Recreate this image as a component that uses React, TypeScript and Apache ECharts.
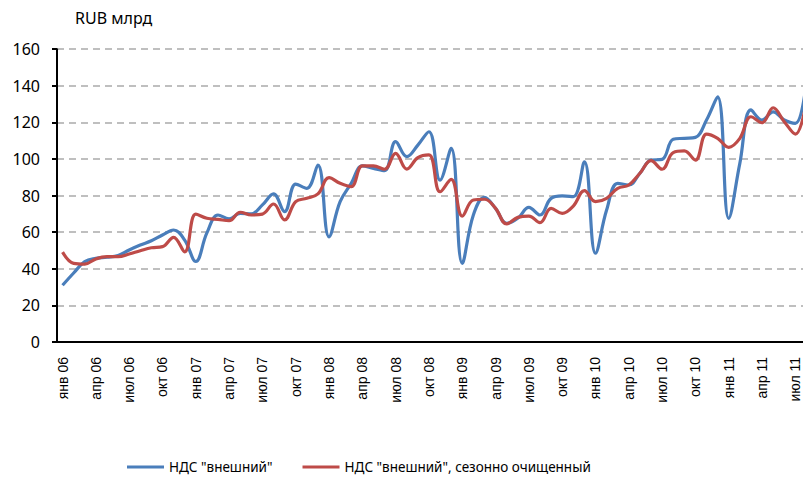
import React, { useEffect, useRef } from "react";
import * as echarts from "echarts";

const categories = [
  "янв 06","фев 06","мар 06","апр 06","май 06","июн 06","июл 06","авг 06","сен 06","окт 06","ноя 06","дек 06",
  "янв 07","фев 07","мар 07","апр 07","май 07","июн 07","июл 07","авг 07","сен 07","окт 07","ноя 07","дек 07",
  "янв 08","фев 08","мар 08","апр 08","май 08","июн 08","июл 08","авг 08","сен 08","окт 08","ноя 08","дек 08",
  "янв 09","фев 09","мар 09","апр 09","май 09","июн 09","июл 09","авг 09","сен 09","окт 09","ноя 09","дек 09",
  "янв 10","фев 10","мар 10","апр 10","май 10","июн 10","июл 10","авг 10","сен 10","окт 10","ноя 10","дек 10",
  "янв 11","фев 11","мар 11","апр 11","май 11","июн 11","июл 11","авг 11",
];

const vatExternal = [
  31, 37.7, 43.9, 45.7, 46.3, 47.2, 50.3, 53, 55.3, 58.5, 61.2, 55.7,
  44, 59.6, 69.4, 67.3, 70.3, 70, 74.9, 80.9, 71.2, 86.3, 84, 96.7,
  57.5, 76.7, 86.7, 96.2, 94.9, 93.6, 109.5, 101.3, 107.6, 114.9, 88.5, 105.8,
  43, 69.4, 79, 73, 64.8, 67.6, 73.6, 69.4, 78.5, 79.8, 79.4, 98.5,
  48.5, 72.1, 86.7, 85.8, 92.2, 99.4, 99.8, 110.8, 111.3, 111.8, 121.3, 134,
  67.6, 97.6, 126.8, 121.3, 125.8, 121.3, 119.5, 143,
];

const vatExternalSA = [
  49.1, 43, 42.6, 45.4, 46.6, 46.6, 48.1, 49.9, 51.5, 52.1, 57.2, 49.3,
  69.9, 67.6, 67, 66.3, 70.9, 69.4, 69.9, 75.4, 66.7, 76.7, 78.5, 80.9,
  89.8, 86.7, 84.9, 96.2, 96.2, 94.4, 103.1, 94.5, 100.7, 102.2, 82.1, 88.9,
  68.8, 77.6, 78, 73, 64.5, 68.1, 68.8, 65.2, 73, 70.3, 74.3, 82.7,
  76.7, 78.5, 84, 85.8, 92.2, 99.1, 94.4, 103.5, 104.4, 99.4, 113.6, 111.3,
  106.4, 111.3, 123.1, 119.8, 128, 120.4, 113.6, 132,
];

const seriesNames = ['НДС "внешний"', 'НДС "внешний", сезонно очищенный'];
const yTicks = { min: 0, max: 160, interval: 20 };
const unitLabel = "RUB млрд";

export default function App() {
  const ref = useRef<HTMLDivElement>(null);
  useEffect(() => {
    if (!ref.current) return;
    const chart = echarts.init(ref.current, null, { renderer: "svg" });
    const sans = "'Noto Sans', 'DejaVu Sans', sans-serif";
    chart.setOption({
      animation: false,
      backgroundColor: "#ffffff",
      graphic: [
        {
          type: "text",
          left: 75,
          top: 10,
          style: { text: unitLabel, font: `16px ${sans}`, fill: "#000" },
        },
      ],
      legend: {
        left: 127,
        top: 459,
        padding: 0,
        icon: "rect",
        itemWidth: 37,
        itemHeight: 3,
        itemGap: 30,
        textStyle: { fontFamily: sans, fontSize: 13.5, lineHeight: 16, color: "#000" },
        data: seriesNames,
      },
      grid: { left: 57, right: 0, top: 49.2, bottom: 135, containLabel: false },
      xAxis: {
        type: "category",
        data: categories,
        boundaryGap: true,
        axisLine: { lineStyle: { color: "#000", width: 2 } },
        axisTick: { interval: 2, length: 5, lineStyle: { color: "#000", width: 2 } },
        axisLabel: {
          interval: 2,
          rotate: 90,
          margin: 15,
          padding: [8, 0, 0, 0],
          fontFamily: "'Liberation Sans', Arial, sans-serif",
          fontSize: 14,
          color: "#000",
        },
        splitLine: { show: false },
      },
      yAxis: {
        type: "value",
        min: yTicks.min,
        max: yTicks.max,
        interval: yTicks.interval,
        axisLine: { show: true, lineStyle: { color: "#000", width: 2 } },
        axisTick: { show: true, length: 5, lineStyle: { color: "#000", width: 2 } },
        axisLabel: { margin: 17, fontFamily: sans, fontSize: 16, color: "#000" },
        splitLine: {
          show: true,
          lineStyle: { color: "#bfbfbf", width: 2, type: [7, 5] },
        },
      },
      series: [
        {
          name: seriesNames[0],
          type: "line",
          data: vatExternal,
          smooth: 0.4,
          showSymbol: false,
          symbol: "none",
          lineStyle: { color: "#4a7ebb", width: 3.2 },
          itemStyle: { color: "#4a7ebb" },
          z: 2,
        },
        {
          name: seriesNames[1],
          type: "line",
          data: vatExternalSA,
          smooth: 0.4,
          showSymbol: false,
          symbol: "none",
          lineStyle: { color: "#be4b48", width: 3.2 },
          itemStyle: { color: "#be4b48" },
          z: 3,
        },
      ],
    });
    return () => chart.dispose();
  }, []);
  return (
    <div
      style={{ position: "absolute", left: 0, top: 0, width: 803, height: 477, overflow: "hidden", background: "#fff" }}
    >
      <div ref={ref} style={{ width: 812, height: 477 }} />
    </div>
  );
}
